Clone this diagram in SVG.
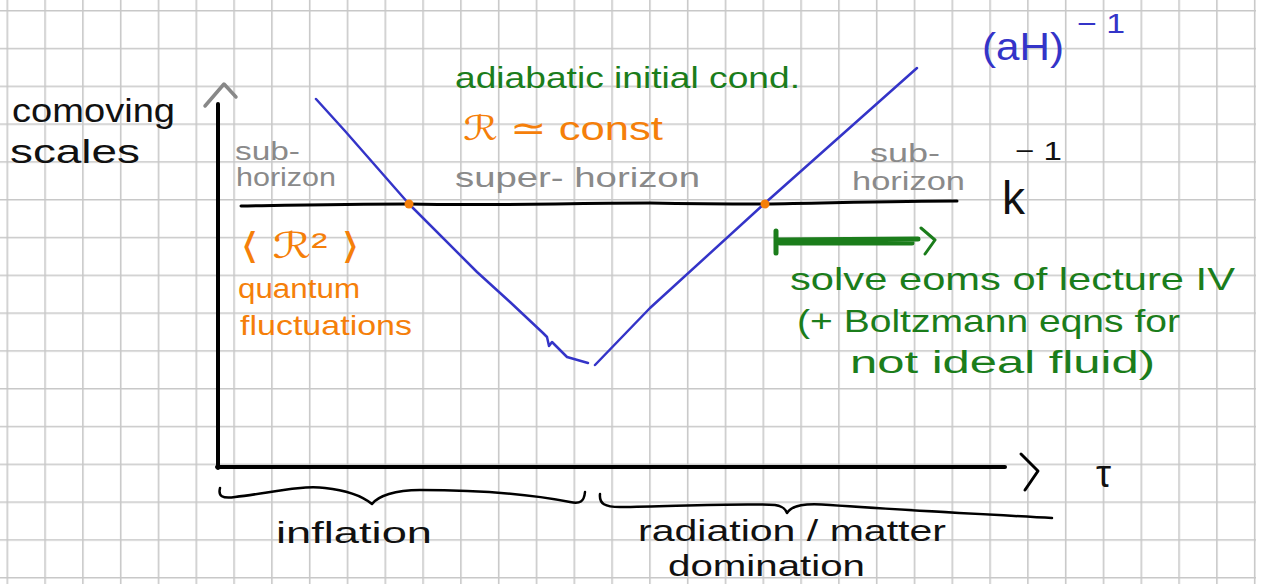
<svg xmlns="http://www.w3.org/2000/svg" width="1262" height="584" viewBox="0 0 1262 584">
<style>
.t{font-family:"Liberation Sans","DejaVu Sans",sans-serif;}
.blk{fill:#111}
.gry{fill:#8a8a8a}
.grn{fill:#1b7d1b}
.org{fill:#f57f0a}
.blu{fill:#3434c8}
.ln{fill:none;stroke-linecap:round;stroke-linejoin:round}
</style>
<defs>
<pattern id="grid" x="6.5" y="10" width="37.8" height="37.8" patternUnits="userSpaceOnUse">
<path d="M0.8 0V37.8M0 0.8H37.8" stroke="#c8c8c8" stroke-width="1.6" fill="none"/>
</pattern>
</defs>
<rect width="1262" height="584" fill="#fff"/>
<rect x="0" y="0" width="1256" height="584" fill="url(#grid)"/>

<g id="axes">
<path class="ln" d="M218 104V468" stroke="#000" stroke-width="4"/>
<path class="ln" d="M205 106L224 84L236 97" stroke="#888" stroke-width="3.5"/>
<path class="ln" d="M217 467H1005" stroke="#000" stroke-width="4"/>
<path class="ln" d="M1021 454L1038 471L1025 490" stroke="#000" stroke-width="3"/>
</g>

<g id="connectors">
<path class="ln" d="M241 206C300 205 350 204 409 204C500 206 560 203 650 203C700 204 740 204 765 204C830 203 900 201 957 201" stroke="#000" stroke-width="3"/>
<path class="ln" d="M316 99L345 131L409 204L477 272L510 302L543 333L547 337L549 346L552 342L567 357L588 363" stroke="#3434c8" stroke-width="2.5"/>
<path class="ln" d="M595 365L650 308L764 204L917 68" stroke="#3434c8" stroke-width="2.5"/>
<circle cx="409" cy="204" r="4.5" fill="#f57f0a"/>
<circle cx="765" cy="204" r="4.5" fill="#f57f0a"/>
<path class="ln" d="M776 231V253M778 240L918 239M780 243L912 243" stroke="#1b7d1b" stroke-width="5"/>
<path class="ln" d="M921 228L935 240L925 254" stroke="#1b7d1b" stroke-width="3"/>
<path class="ln" d="M220 488C218 496 222 499 235 497C270 493 300 485 325 488C345 490 362 496 372 504C378 496 395 490 420 490C480 490 530 494 570 502C580 504 584 502 585 492" stroke="#000" stroke-width="2.5"/>
<path class="ln" d="M600 494C599 504 605 507 620 507C680 506 740 503 775 505C782 506 785 508 787 513C792 505 805 503 830 505C900 510 980 514 1052 518" stroke="#000" stroke-width="2.5"/>
</g>

<g id="ylabel"><text class="t blk" x="12" y="122" font-size="34" textLength="163" lengthAdjust="spacingAndGlyphs">comoving</text>
<text class="t blk" x="10" y="163" font-size="34" textLength="130" lengthAdjust="spacingAndGlyphs">scales</text></g>

<g id="subhorizon-left"><text class="t gry" x="235" y="160" font-size="25" textLength="65" lengthAdjust="spacingAndGlyphs">sub-</text>
<text class="t gry" x="236" y="186" font-size="25" textLength="100" lengthAdjust="spacingAndGlyphs">horizon</text></g>

<g id="superhorizon"><text class="t grn" x="455" y="88" font-size="30" textLength="345" lengthAdjust="spacingAndGlyphs">adiabatic initial cond.</text>
<text class="t org" x="463" y="140" font-size="34" textLength="200" lengthAdjust="spacingAndGlyphs">ℛ ≃ const</text>
<text class="t gry" x="455" y="187" font-size="27" textLength="245" lengthAdjust="spacingAndGlyphs">super- horizon</text></g>

<g id="subhorizon-right"><text class="t gry" x="870" y="162" font-size="25" textLength="70" lengthAdjust="spacingAndGlyphs">sub-</text>
<text class="t gry" x="852" y="190" font-size="25" textLength="113" lengthAdjust="spacingAndGlyphs">horizon</text></g>

<g id="kinv"><text class="t blk" x="1002" y="214" font-size="46">k</text>
<text class="t blk" x="1015" y="160" font-size="26" textLength="47" lengthAdjust="spacingAndGlyphs">− 1</text></g>

<g id="hubble"><text class="t blu" x="982" y="60" font-size="38" textLength="82" lengthAdjust="spacingAndGlyphs">(aH)</text>
<text class="t blu" x="1077" y="33" font-size="28" textLength="48" lengthAdjust="spacingAndGlyphs">− 1</text></g>

<g id="quantum"><text class="t org" x="240" y="258" font-size="36" textLength="120" lengthAdjust="spacingAndGlyphs">⟨ ℛ² ⟩</text>
<text class="t org" x="238" y="298" font-size="27" textLength="122" lengthAdjust="spacingAndGlyphs">quantum</text>
<text class="t org" x="240" y="335" font-size="28" textLength="172" lengthAdjust="spacingAndGlyphs">fluctuations</text></g>

<g id="solve"><text class="t grn" x="790" y="290" font-size="32" textLength="445" lengthAdjust="spacingAndGlyphs">solve eoms of lecture IV</text>
<text class="t grn" x="797" y="332" font-size="32" textLength="383" lengthAdjust="spacingAndGlyphs">(+ Boltzmann eqns for</text>
<text class="t grn" x="850" y="373" font-size="31" textLength="305" lengthAdjust="spacingAndGlyphs">not ideal fluid)</text></g>

<g id="tau"><text class="t blk" x="1096" y="487" font-size="38">τ</text></g>

<g id="eras"><text class="t blk" x="276" y="543" font-size="30" textLength="156" lengthAdjust="spacingAndGlyphs">inflation</text>
<text class="t blk" x="638" y="541" font-size="30" textLength="308" lengthAdjust="spacingAndGlyphs">radiation / matter</text>
<text class="t blk" x="668" y="576" font-size="30" textLength="197" lengthAdjust="spacingAndGlyphs">domination</text></g>
</svg>
